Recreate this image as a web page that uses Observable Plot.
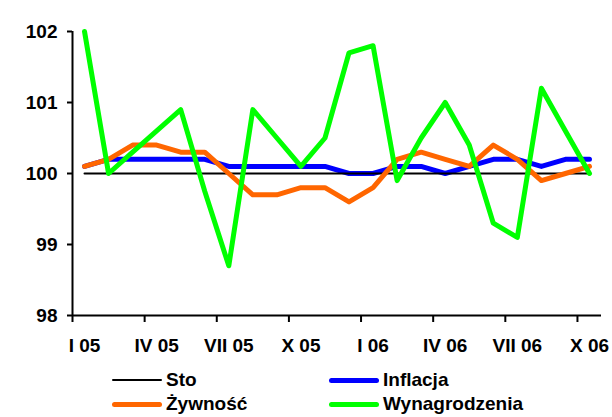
<!DOCTYPE html>
<html>
<head>
<meta charset="utf-8">
<script src="https://cdn.jsdelivr.net/npm/d3@7"></script>
<script src="https://cdn.jsdelivr.net/npm/@observablehq/plot@0.6"></script>
<style>
  body { margin: 0; background: #fff; font-family: "Liberation Sans", Arial, sans-serif; }
  #wrap { width: 612px; height: 417px; position: relative; overflow: hidden; }
  .legend { position: absolute; font-weight: bold; font-size: 19px; color: #000; }
  .item { position: absolute; display: flex; align-items: center; white-space: nowrap; }
  .sw { display: inline-block; width: 50px; margin-right: 4px; border-radius: 3px; }
</style>
</head>
<body>
<div id="wrap"></div>
<script>
const months = ["I 05","II 05","III 05","IV 05","V 05","VI 05","VII 05","VIII 05","IX 05","X 05","XI 05","XII 05",
                "I 06","II 06","III 06","IV 06","V 06","VI 06","VII 06","VIII 06","IX 06","X 06"];
const tickLabels = ["I 05","IV 05","VII 05","X 05","I 06","IV 06","VII 06","X 06"];
const sto = [100,100,100,100,100,100,100,100,100,100,100,100,100,100,100,100,100,100,100,100,100,100];
const inflacja = [100.1,100.2,100.2,100.2,100.2,100.2,100.1,100.1,100.1,100.1,100.1,100.0,
                  100.0,100.1,100.1,100.0,100.1,100.2,100.2,100.1,100.2,100.2];
const zywnosc = [100.1,100.2,100.4,100.4,100.3,100.3,100.0,99.7,99.7,99.8,99.8,99.6,
                 99.8,100.2,100.3,100.2,100.1,100.4,100.2,99.9,100.0,100.1];
const wynagrodzenia = [102.0,100.0,100.3,100.6,100.9,99.75,98.7,100.9,100.5,100.1,100.5,101.7,
                       101.8,99.9,100.5,101.0,100.4,99.3,99.1,101.2,100.6,100.0];
const yTicks = [98,99,100,101,102];

const seriesNames = ["Sto","Inflacja","Żywność","Wynagrodzenia"];
const seriesColors = ["#000000","#0000ff","#ff6600","#00ff00"];
const seriesValues = [sto, inflacja, zywnosc, wynagrodzenia];
const seriesWidths = [2, 5, 5, 5];

const rows = (vals) => vals.map((v, i) => ({i: i + 0.5, v}));
const drawOrder = [1, 0, 2, 3];

const chart = Plot.plot({
  width: 612,
  height: 360,
  marginLeft: 72,
  marginRight: 11,
  marginTop: 31,
  marginBottom: 45,
  style: {fontFamily: "'Liberation Sans', Arial, sans-serif", background: "#fff", overflow: "visible"},
  x: {type: "linear", domain: [0, months.length], axis: null},
  y: {domain: [98, 102], axis: null},
  marks: [
    Plot.axisY(yTicks, {label: null, tickSize: 5, tickPadding: 10, fontSize: 19, fontWeight: "bold", stroke: "#000", fill: "#000", strokeWidth: 2, tickFormat: d => String(d)}),
    Plot.axisX(d3.range(0, months.length, 3), {label: null, tickSize: 7, tickFormat: () => "", stroke: "#000", strokeWidth: 2}),
    Plot.axisX(d3.range(0, months.length, 3).map(i => i + 0.5), {label: null, tickSize: 0, tickPadding: 23, fontSize: 19, fontWeight: "bold", fill: "#000",
      tickFormat: d => tickLabels[Math.round((d - 0.5) / 3)]}),
    Plot.ruleX([0], {y1: 98, y2: 102, stroke: "#000", strokeWidth: 2}),
    Plot.ruleY([98], {x1: 0, x2: months.length, stroke: "#000", strokeWidth: 2}),
    ...drawOrder.map(k => Plot.line(rows(seriesValues[k]), {x: "i", y: "v", stroke: seriesColors[k], strokeWidth: seriesWidths[k], strokeLinejoin: "round", strokeLinecap: "round"}))
  ]
});
const wrap = document.getElementById("wrap");
wrap.appendChild(chart);

const legend = document.createElement("div");
legend.className = "legend";
const pos = [[112, 380], [329, 380], [112, 404], [329, 404]];
seriesNames.forEach((name, k) => {
  const it = document.createElement("div");
  it.className = "item";
  it.style.left = pos[k][0] + "px";
  it.style.top = (pos[k][1] - 11) + "px";
  it.style.height = "22px";
  const sw = document.createElement("span");
  sw.className = "sw";
  sw.style.height = (k === 0 ? 2 : 5) + "px";
  sw.style.background = seriesColors[k];
  it.appendChild(sw);
  const t = document.createElement("span");
  t.textContent = name;
  it.appendChild(t);
  legend.appendChild(it);
});
legend.style.left = "0px";
legend.style.top = "0px";
wrap.appendChild(legend);
</script>
</body>
</html>
